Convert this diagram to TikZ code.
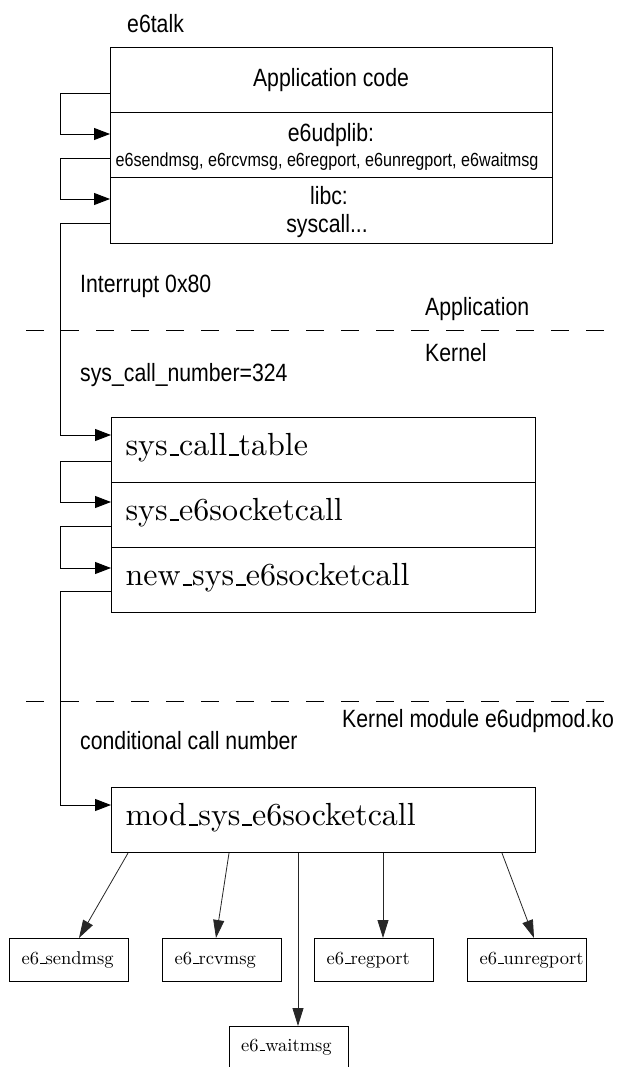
\documentclass[tikz,border=0pt]{standalone}
\usepackage{fontspec}
\usetikzlibrary{arrows.meta}
\newfontfamily\labfont[FakeStretch=0.85]{Liberation Sans}
\newfontfamily\cmten[Extension=.otf]{lmroman10-regular}
\newcommand\us{\leavevmode\kern.06em\rule[-0.01em]{.3em}{.045em}}
\begin{document}
\begin{tikzpicture}[x=1pt,y=-1pt,
  box/.style={draw, line width=1.1pt, inner sep=0pt, anchor=north west},
  toprow/.style={box, minimum width=442pt, minimum height=65pt},
  row/.style={box, minimum width=424pt, minimum height=65pt, text width=396pt,
    inner xsep=14pt, align=left, text height=22pt, text depth=11pt,
    font=\cmten\fontsize{32}{36}\selectfont},
  fbox/.style={box, minimum width=119pt, minimum height=43pt, text width=95pt,
    inner xsep=12pt, align=left, text height=12pt, text depth=4pt,
    font=\cmten\fontsize{18.5}{20}\selectfont},
  sans/.style={font=\labfont\fontsize{25}{28}\selectfont, inner sep=0pt},
  small/.style={font=\labfont\fontsize{19}{22}\selectfont, inner sep=0pt},
  conn/.style={line width=0.9pt, -{Triangle[length=16pt,width=12pt]}},
  call/.style={line width=0.8pt, draw=black!85, -{Triangle[length=18pt,width=11pt]}},
  divider/.style={line width=0.9pt, dash pattern=on 18pt off 17pt}
]
\useasboundingbox (0,0) rectangle (617,1067);
\clip (0,0) rectangle (617,1067);

% top box
\node[toprow] (app) at (110,47) {};
\node[toprow] (udp) at (110,112) {};
\node[toprow, minimum height=66pt] (libc) at (110,177) {};
\node[sans, anchor=base west] (talk) at (127,33) {e6talk};
\node[sans, anchor=base] (appt) at (331,87) {Application code};
\node[sans, anchor=base] (udpt) at (331,142) {e6udplib:};
\node[small, anchor=base] (udpf) at (327,167) {e6sendmsg, e6rcvmsg, e6regport, e6unregport, e6waitmsg};
\node[sans, anchor=base] (libct) at (329,205) {libc:};
\node[sans, anchor=base] (sysc) at (327,233) {syscall...};

% labels
\node[sans, anchor=base west] (intr) at (80,292) {Interrupt 0x80};
\node[sans, anchor=base west] (appl) at (425,315) {Application};
\node[sans, anchor=base west] (kern) at (425,361) {Kernel};
\node[sans, anchor=base west] (scn) at (80,381) {sys\_call\_number=324};
\node[sans, anchor=base west] (kmod) at (342,727) {Kernel module e6udpmod.ko};
\node[sans, anchor=base west] (ccn) at (80,749) {conditional call number};

% dividers
\coordinate (d1a) at (26,330);
\coordinate (d1b) at (620,330);
\coordinate (d2a) at (26,701);
\coordinate (d2b) at (620,701);
\draw[divider] (d1a) -- (d1b);
\draw[divider] (d2a) -- (d2b);

% kernel table
\node[row] (tab) at (111,417) {sys\us call\us table};
\node[row] (sock) at (111,482) {sys\us e6socketcall};
\node[row] (nsock) at (111,547) {new\us sys\us e6socketcall};

% module
\node[row] (mod) at (111,787) {mod\us sys\us e6socketcall};

% functions
\node[fbox] (send) at (9,938) {e6\us sendmsg};
\node[fbox] (rcv) at (162,938) {e6\us rcvmsg};
\node[fbox] (reg) at (314,938) {e6\us regport};
\node[fbox] (unreg) at (467,938) {e6\us unregport};
\node[fbox, minimum height=60pt] (wait) at (229,1026) {};
\node[font=\cmten\fontsize{18.5}{20}\selectfont, inner sep=0pt, anchor=base west] (waitt) at (241,1051) {e6\us waitmsg};

% call chain
\draw[conn] ([yshift=20pt]app.south west) -- ++(-50,0) |- ([yshift=-22pt]udp.north west);
\draw[conn] ([yshift=20pt]udp.south west) -- ++(-50,0) |- ([yshift=-22pt]libc.north west);
\draw[conn] ([yshift=21pt]libc.south west) -- ++(-50,0) |- ([yshift=-18pt]tab.north west);
\draw[conn] ([yshift=22pt]tab.south west) -- ++(-51,0) |- ([yshift=-20pt]sock.north west);
\draw[conn] ([yshift=22pt]sock.south west) -- ++(-51,0) |- ([yshift=-21pt]nsock.north west);
\draw[conn] ([yshift=22pt]nsock.south west) -- ++(-51,0) |- ([yshift=-18pt]mod.north west);

% dispatch
\draw[call] ([xshift=17pt]mod.south west) -- ([xshift=70pt]send.north west);
\draw[call] ([xshift=118pt]mod.south west) -- ([xshift=54pt]rcv.north west);
\draw[call] ([xshift=187pt]mod.south west) -- ([xshift=69pt]wait.north west);
\draw[call] ([xshift=272pt]mod.south west) -- ([xshift=69pt]reg.north west);
\draw[call] ([xshift=391pt]mod.south west) -- ([xshift=67pt]unreg.north west);
\end{tikzpicture}
\end{document}
